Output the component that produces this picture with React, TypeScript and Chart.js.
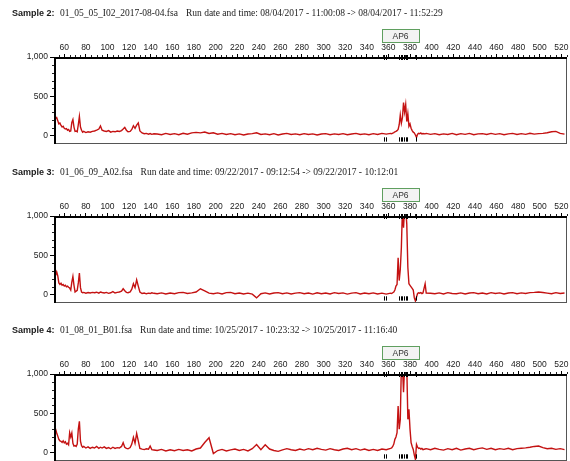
import React, { useEffect, useRef } from 'react';
import { Chart, registerables } from 'chart.js';

Chart.register(...registerables);

// Fragment sizes (bp) shared by the three traces
const SIZES = [
  51, 52, 53, 54, 55, 56, 57, 58, 59, 60,
  61, 62, 63, 64, 65, 66, 67, 68, 69, 70,
  71, 72, 73, 74, 75, 76, 77, 78, 80, 82,
  84, 86, 88, 90, 92, 93.5, 95, 97, 99, 101,
  103, 105, 107, 109, 111, 113, 114.5, 116, 117.5, 119,
  121, 122.5, 124, 125.5, 127, 128.5, 130, 132, 134, 136,
  138, 139.5, 141, 143,
  146, 150, 154, 158, 162, 166, 170, 174, 178, 182,
  186, 190, 194, 198, 202, 206, 210, 214, 218, 222,
  226, 230, 234, 238, 242, 246, 250, 254, 258, 262,
  266, 270, 274, 278, 282, 286, 290, 294, 298, 302,
  306, 310, 314, 318, 322, 326, 330, 334, 338, 342,
  346, 350, 354, 358, 362,
  363, 364, 365, 366, 367, 368, 369, 370, 371, 372,
  373, 374, 375, 376, 377, 378, 379, 380, 381, 382,
  383, 384, 385, 386, 387, 388, 389, 390, 391, 392,
  394,
  395, 399, 403, 407, 411, 415, 419, 423, 427, 431,
  435, 439, 443, 447, 451, 455, 459, 463, 467, 471,
  475, 479, 483, 487, 491, 495, 499, 503, 507, 511,
  515, 519, 523,
];

const SAMPLE2 = [
  226, 215, 230, 190, 150, 160, 130, 110, 120, 95,
  85, 90, 70, 80, 55, 60, 170, 205, 110, 55,
  60, 50, 140, 245, 110, 70, 45, 55, 40, 50,
  45, 55, 60, 70, 85, 125, 70, 60, 55, 65,
  45, 55, 50, 60, 55, 65, 85, 106, 70, 50,
  55, 80, 128, 95, 135, 162, 60, 35, 25, 30,
  20, 28, 18, 25,
  22, 12, 30, 16, 27, 13, 32, 20, 37, 42,
  36, 47, 28, 37, 20, 30, 16, 27, 13, 24,
  10, 22, 27, 37, 16, 24, 13, 27, 10, 22,
  30, 16, 24, 13, 27, 16, 24, 10, 22, 27,
  13, 24, 16, 27, 13, 22, 30, 16, 24, 13,
  27, 16, 30, 20, 30,
  25, 32, 40, 50, 55, 65, 80, 140, 265, 160,
  230, 420, 300, 395, 180, 280, 120, 150, 95, 65,
  45, 35, 10, -20, 20, 30, 25, 35, 22, 28,
  24,
  30, 18, 27, 13, 24, 16, 30, 13, 27, 18,
  30, 13, 24, 27, 16, 30, 18, 27, 13, 24,
  30, 16, 27, 18, 32, 20, 27, 30, 38, 50,
  55, 30, 20,
];

const SAMPLE3 = [
  300, 250, 290, 240, 150, 130, 145, 120, 130, 110,
  120, 100, 110, 95, 85, 60, 160, 232, 120, 35,
  45, 55, 150, 275, 90, 35, 25, 30, 20, 28,
  22, 30, 25, 32, 20, 35, 28, 22, 30, 18,
  25, 40, 22, 30, 35, 45, 76, 50, 30, 25,
  35, 70, 140, 90, 190, 110, 35, 15, 22, 12,
  20, 15, 25, 18,
  13, 24, 10, 22, 13, 27, 30, 16, 24, 35,
  76, 50, 20, 13, 24, 10, 27, 30, 13, 22,
  10, 20, 8, -40, 13, 24, 10, 22, 27, 13,
  24, 10, 20, 27, 13, 22, 8, 24, 13, 22,
  10, 27, 16, 24, 8, 20, 27, 10, 22, 13,
  24, 10, 20, 8, 20,
  15, 25, 35, 60, 110, 130, 470, 180, 320, 600,
  1100, 850, 1100, 1100, 900, 350, 140, 120, 100, 80,
  60, -40, -80, -30, 15, 25, 20, 28, 15, 22,
  140,
  22, 18, 13, 24, 10, 27, 16, 13, 24, 10,
  22, 27, 13, 22, 10, 27, 16, 24, 10, 22,
  27, 13, 24, 16, 27, 30, 35, 28, 20, 13,
  27, 16, 22,
];

const SAMPLE4 = [
  338, 300, 250, 211, 170, 150, 145, 130, 150, 125,
  140, 110, 120, 100, 254, 200, 250, 120, 85, 90,
  80, 110, 300, 400, 148, 90, 70, 80, 60, 75,
  55, 70, 60, 80, 55, 70, 60, 75, 55, 65,
  50, 70, 55, 65, 60, 80, 127, 70, 55, 50,
  65, 110, 195, 120, 245, 150, 55, 45, 40, 50,
  45, 85, 40, 35,
  28, 42, 23, 37, 26, 42, 28, 37, 23, 47,
  60, 130, 190, -10, 28, 42, 23, 37, 47, 28,
  42, 23, 52, 105, 38, 100, 47, 28, 18, 37,
  52, 38, 28, 47, 33, 52, 38, 57, 43, 33,
  52, 38, 28, 47, 57, 38, 52, 33, 47, 28,
  42, 28, 47, 38, 55,
  60, 80, 110, 170, 200, 254, 593, 300, 424, 1100,
  1100, 767, 1100, 1100, 1100, 424, 551, 300, 127, 80,
  42, -30, -85, 106, 70, 55, 60, 45, 55, 40,
  48,
  52, 38, 57, 43, 33, 52, 38, 57, 33, 47,
  57, 38, 52, 62, 43, 57, 38, 52, 43, 57,
  38, 52, 57, 62, 70, 80, 85, 65, 50, 57,
  43, 52, 40,
];

const X_TICKS = [60, 80, 100, 120, 140, 160, 180, 200, 220, 240, 260, 280, 300, 320, 340, 360, 380, 400, 420, 440, 460, 480, 500, 520];
const Y_TICKS = [0, 500, 1000];
const Y_TICK_LABELS = ['0', '500', '1,000'];

const SAMPLE_LABELS = ['Sample 2:', 'Sample 3:', 'Sample 4:'];
const FILE_NAMES = ['01_05_05_I02_2017-08-04.fsa', '01_06_09_A02.fsa', '01_08_01_B01.fsa'];
const RUN_TIMES = [
  'Run date and time: 08/04/2017 - 11:00:08 -> 08/04/2017 - 11:52:29',
  'Run date and time: 09/22/2017 - 09:12:54 -> 09/22/2017 - 10:12:01',
  'Run date and time: 10/25/2017 - 10:23:32 -> 10/25/2017 - 11:16:40',
];
const TRACES = [SAMPLE2, SAMPLE3, SAMPLE4];

const BIN_NAME = 'AP6';
const BIN_RANGE = [354.5, 388];
const BIN_MARKERS = [355.5, 357.5, 370, 371.5, 373, 374.5, 376, 377.5, 386];

const X_MIN = 50.5;
const X_MAX = 525.3;
const Y_MIN = -105;
const Y_MAX = 1000;
const PANEL_TOPS = [0, 159, 317];

const SANS = '"Liberation Sans", Arial, sans-serif';
const SERIF = '"Liberation Serif", "Times New Roman", serif';

function Panel({ idx }: { idx: number }) {
  const ref = useRef<HTMLCanvasElement>(null);
  useEffect(() => {
    const canvas = ref.current!;
    const values = TRACES[idx];
    const decor = {
      id: 'decor',
      afterDraw(chart: any) {
        const { ctx, chartArea: a, scales } = chart;
        const xs = scales.x;
        const ys = scales.y;
        ctx.save();
        // header
        ctx.textBaseline = 'middle';
        ctx.textAlign = 'left';
        ctx.fillStyle = '#1a1a1a';
        const ty = a.top - 43.5;
        ctx.font = 'bold 9px ' + SANS;
        ctx.fillText(SAMPLE_LABELS[idx], 12, ty);
        ctx.font = '9.5px ' + SERIF;
        ctx.fillText(FILE_NAMES[idx], 60, ty);
        const w = ctx.measureText(FILE_NAMES[idx]).width;
        ctx.fillText(RUN_TIMES[idx], 60 + w + 8, ty);
        // bin label box
        const bx0 = Math.round(xs.getPixelForValue(BIN_RANGE[0]));
        const bx1 = Math.round(xs.getPixelForValue(BIN_RANGE[1]));
        const by0 = a.top - 28;
        const by1 = a.top - 15;
        ctx.fillStyle = '#f3f3f3';
        ctx.fillRect(bx0, by0, bx1 - bx0, by1 - by0);
        ctx.strokeStyle = '#5f9f5f';
        ctx.lineWidth = 1;
        ctx.strokeRect(bx0 + 0.5, by0 + 0.5, bx1 - bx0, by1 - by0);
        ctx.fillStyle = '#333';
        ctx.font = '8.5px ' + SANS;
        ctx.textAlign = 'center';
        ctx.fillText(BIN_NAME, (bx0 + bx1) / 2, (by0 + by1) / 2 + 1);
        // minor ticks
        ctx.strokeStyle = '#222';
        ctx.lineWidth = 1;
        ctx.beginPath();
        for (let v = 55; v <= X_MAX; v += 5) {
          if (v % 20 === 0) continue;
          const px = Math.round(xs.getPixelForValue(v)) + 0.5;
          ctx.moveTo(px, a.top);
          ctx.lineTo(px, a.top - 2);
        }
        for (let v = 100; v < Y_MAX; v += 100) {
          if (v % 500 === 0) continue;
          const py = Math.round(ys.getPixelForValue(v)) + 0.5;
          ctx.moveTo(a.left, py);
          ctx.lineTo(a.left - 2, py);
        }
        ctx.stroke();
        // bin markers
        ctx.strokeStyle = '#000';
        ctx.beginPath();
        const my0 = ys.getPixelForValue(-20);
        const my1 = ys.getPixelForValue(-75);
        BIN_MARKERS.forEach((m) => {
          const px = Math.round(xs.getPixelForValue(m)) + 0.5;
          ctx.moveTo(px, a.top - 2);
          ctx.lineTo(px, a.top + 3);
          ctx.moveTo(px, my0);
          ctx.lineTo(px, my1);
        });
        ctx.stroke();
        // frame
        ctx.strokeStyle = '#555';
        ctx.lineWidth = 1;
        ctx.strokeRect(a.left + 0.5, a.top + 0.5, a.right - a.left - 1, a.bottom - a.top - 1);
        ctx.strokeStyle = '#000';
        ctx.lineWidth = 2;
        ctx.beginPath();
        ctx.moveTo(a.left + 1, a.bottom);
        ctx.lineTo(a.left + 1, a.top + 1);
        ctx.lineTo(a.right, a.top + 1);
        ctx.stroke();
        ctx.restore();
      },
    };
    const chart = new Chart(canvas, {
      type: 'line',
      data: {
        datasets: [
          {
            data: SIZES.map((x, i) => ({ x, y: values[i] })),
            borderColor: '#c41212',
            borderWidth: 1.4,
            pointRadius: 0,
            tension: 0,
            fill: false,
          },
        ],
      },
      options: {
        animation: false,
        responsive: false,
        devicePixelRatio: 1,
        events: [],
        layout: { padding: { top: 43, left: 0, right: 3, bottom: 16 } },
        plugins: { legend: { display: false }, tooltip: { enabled: false }, title: { display: false } },
        scales: {
          x: {
            type: 'linear',
            position: 'top',
            min: X_MIN,
            max: X_MAX,
            afterBuildTicks: (s: any) => {
              s.ticks = X_TICKS.map((v) => ({ value: v }));
            },
            afterFit: (s: any) => {
              s.height = 14;
            },
            grid: { display: true, drawOnChartArea: false, drawTicks: true, tickLength: 3, color: '#000' },
            border: { display: false },
            ticks: {
              autoSkip: false,
              maxRotation: 0,
              padding: 1,
              color: '#222',
              font: { family: SANS, size: 8.5 },
              callback: (_v: any, i: number) => String(X_TICKS[i]),
            },
          },
          y: {
            type: 'linear',
            min: Y_MIN,
            max: Y_MAX,
            afterBuildTicks: (s: any) => {
              s.ticks = Y_TICKS.map((v) => ({ value: v }));
            },
            afterFit: (s: any) => {
              s.width = 54;
            },
            grid: { display: true, drawOnChartArea: false, drawTicks: true, tickLength: 4, color: '#000' },
            border: { display: false },
            ticks: {
              padding: 2,
              color: '#222',
              font: { family: SANS, size: 8.5 },
              callback: (_v: any, i: number) => Y_TICK_LABELS[i],
            },
          },
        },
      },
      plugins: [decor],
    });
    return () => chart.destroy();
  }, [idx]);
  return (
    <canvas
      ref={ref}
      width={570}
      height={160}
      style={{ position: 'absolute', left: 0, top: PANEL_TOPS[idx], width: 570, height: 160, display: 'block' }}
    />
  );
}

export default function App() {
  return (
    <div style={{ position: 'absolute', left: 0, top: 0, width: 570, height: 461, overflow: 'hidden', background: '#fff' }}>
      <Panel idx={0} />
      <Panel idx={1} />
      <Panel idx={2} />
    </div>
  );
}
